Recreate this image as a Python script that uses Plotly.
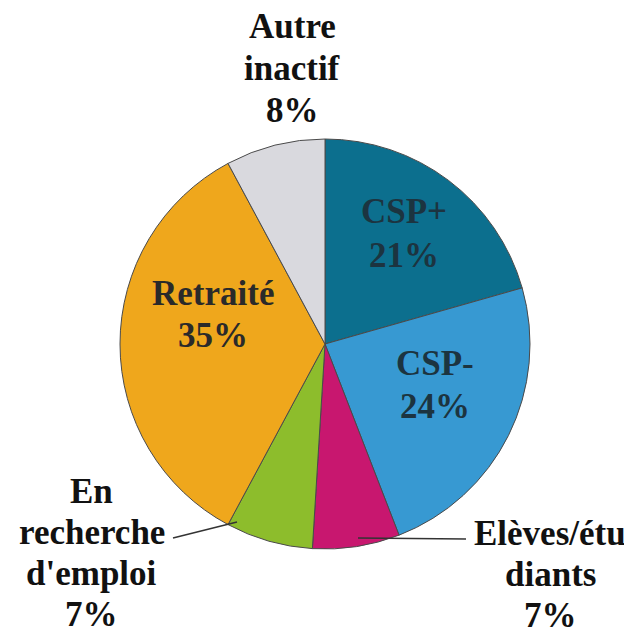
import plotly.graph_objects as go

# categories and shares (%) as printed on the chart
categories = ["CSP+", "CSP-", "Elèves/étudiants", "En recherche d'emploi", "Retraité", "Autre inactif"]
shares = [21, 24, 7, 7, 35, 8]
label_lines = [["CSP+", "21%"], ["CSP-", "24%"], ["Elèves/étu", "diants", "7%"],
               ["En", "recherche", "d'emploi", "7%"], ["Retraité", "35%"], ["Autre", "inactif", "8%"]]
colors = ["#0c6f8e", "#3799d2", "#c8176f", "#8dbd2c", "#efa71c", "#d9d9de"]

W, H = 632, 634
OFF = 8  # page body margin


def px(x):
    return (x - OFF) / W


def py(y):
    return 1 - (y - OFF) / H


fig = go.Figure(go.Pie(
    labels=categories, values=shares,
    sort=False, direction="clockwise", rotation=0,
    marker=dict(colors=colors, line=dict(color="#4a4a4a", width=1)),
    textinfo="none", hoverinfo="label+percent",
    domain=dict(x=[px(120), px(530)], y=[py(550), py(138)]),
    showlegend=False,
))

# label placement: centre x, first baseline, line gap, colour
place = [(404, 223, 44, "#1c3440"), (435, 375, 43, "#1c3440"), (550, 545, 41, "#111"),
         (92, 503, 41, "#111"), (213, 305, 42, "#2a2a2a"), (292, 38, 42, "#111")]
SIZE = 35
for (cx, base, gap, c), lines in zip(place, label_lines):
    for i, t in enumerate(lines):
        yb = base + i * gap
        fig.add_annotation(x=px(cx), y=py(yb - 0.32 * SIZE), xref="paper", yref="paper",
                           text=t, showarrow=False, xanchor="center", yanchor="middle",
                           font=dict(family="Liberation Serif", size=SIZE, color=c, weight="bold"))

# leader lines
fig.add_shape(type="line", xref="paper", yref="paper",
              x0=px(173), y0=py(538), x1=px(237), y1=py(522),
              line=dict(color="#333", width=1.5))
fig.add_shape(type="line", xref="paper", yref="paper",
              x0=px(358), y0=py(538), x1=px(466), y1=py(539),
              line=dict(color="#333", width=1.5))

fig.update_layout(width=W, height=H, margin=dict(l=0, r=0, t=0, b=0),
                  paper_bgcolor="white", plot_bgcolor="white")
fig.write_html("out.html")
